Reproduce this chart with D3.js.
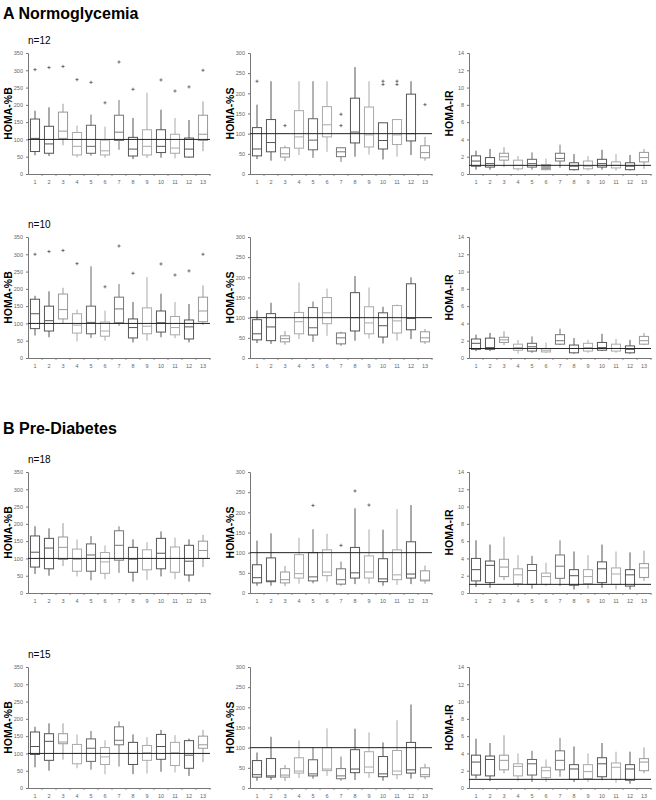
<!DOCTYPE html>
<html>
<head>
<meta charset="utf-8">
<script src="https://cdn.jsdelivr.net/npm/d3@7"></script>
<style>
body { margin: 0; background: #fff; }
text { font-family: "Liberation Sans", Arial, sans-serif; }
#svg1 { opacity: 0.999; }
</style>
</head>
<body>
<svg id="svg1" width="656" height="800"></svg>
<script>
// box categories (1..13)
var cats = ['1','2','3','4','5','6','7','8','9','10','11','12','13'];

// each box: [whisker low, q1, median, q3, whisker high]
var normB12 = [[54,65,103,159,183],[52,60,87,138,193],[83,103,124,179,203],[48,55,80,120,140],[53,60,80,141,172],[47,55,67,98,137],[70,97,121,170,214],[43,52,72,106,162],[46,55,80,128,235],[47,62,80,128,186],[45,60,75,115,162],[47,49,72,104,156],[66,97,115,170,210]];
var normB12Out = [[302],[308],[311],[273],[265],[206],[324],[245],[],[272],[240],[252],[300]];

var normS12 = [[37,45,62,115,172],[33,55,78,135,230],[32,42,50,65,70],[47,64,92,157,230],[40,60,84,137,230],[55,92,122,167,230],[30,43,55,65,65],[43,77,104,188,265],[48,67,97,166,230],[36,62,83,127,127],[43,73,97,135,135],[47,82,100,198,230],[33,40,53,70,92]];
var normS12Out = [[230],[],[120],[],[],[],[120,148],[],[],[222,230],[222,230],[],[172]];

var normIR12 = [[0.5,0.9,1.5,2.1,2.7],[0.5,0.8,1.2,1.9,2.9],[0.8,1.6,2.0,2.4,3.1],[0.4,0.6,1.0,1.6,2.1],[0.5,0.8,1.2,1.7,2.5],[0.4,0.5,0.8,1.1,1.8],[0.7,1.5,1.8,2.4,3.4],[0.4,0.5,0.9,1.3,2.3],[0.4,0.6,0.9,1.5,2.1],[0.5,0.8,1.2,1.7,2.8],[0.4,0.7,1.0,1.4,2.3],[0.4,0.5,0.9,1.3,2.2],[0.6,1.4,1.9,2.5,2.9]];

var normB10 = [[65,85,128,170,180],[60,78,108,150,193],[100,113,140,185,203],[48,72,95,128,140],[58,70,103,150,265],[50,63,78,104,137],[93,102,142,176,214],[45,58,88,113,162],[50,70,92,145,234],[60,75,102,136,186],[57,67,88,120,162],[45,55,90,110,156],[95,105,136,176,210]];
var normB10Out = [[300],[308],[311],[273],[],[206],[324],[245],[],[272],[240],[252],[300]];

var normS10 = [[37,45,60,95,118],[35,43,77,110,137],[33,40,48,55,67],[47,60,90,113,187],[40,57,75,125,140],[55,85,112,150,172],[30,35,50,62,65],[43,67,100,162,203],[48,60,87,127,175],[36,52,80,112,127],[43,62,92,130,133],[47,70,98,184,200],[35,40,50,65,72]];

var normIR10 = [[0.8,1.0,1.7,2.2,2.7],[0.8,1.0,1.2,2.3,2.9],[1.5,1.8,2.1,2.4,3.1],[0.5,0.9,1.2,1.6,2.1],[0.6,0.8,1.3,1.7,2.5],[0.6,0.7,0.9,1.1,1.8],[1.5,1.6,2.0,2.7,3.4],[0.5,0.6,1.1,1.5,2.3],[0.6,0.8,1.2,1.7,2.1],[0.8,0.9,1.2,1.8,2.8],[0.6,0.8,1.1,1.6,2.2],[0.5,0.6,1.0,1.4,2.1],[1.5,1.6,2.0,2.5,2.9]];

var preB18 = [[55,75,118,165,193],[50,70,130,158,187],[78,97,132,162,202],[48,63,97,127,155],[37,63,110,142,165],[40,57,90,117,138],[58,95,138,180,193],[33,60,98,132,155],[38,67,100,125,147],[48,70,115,158,178],[40,60,100,133,160],[33,52,92,138,155],[75,100,123,150,168]];

var preS18 = [[18,25,38,70,130],[18,28,30,87,148],[17,25,33,52,67],[23,37,48,95,137],[24,30,40,100,158],[28,43,52,107,147],[18,22,33,60,78],[22,37,50,113,210],[23,37,52,92,158],[18,28,35,85,157],[20,33,45,107,208],[22,37,47,127,218],[23,30,32,55,68]];
var preS18Out = [[],[],[],[],[217],[],[118],[253],[218],[],[],[],[]];

var preIR18 = [[0.7,1.4,2.7,4.0,6.1],[0.6,1.2,3.2,3.7,5.6],[1.5,1.9,3.0,3.9,6.5],[0.7,1.1,2.1,2.8,4.4],[0.5,1.0,2.6,3.3,4.3],[0.8,1.0,1.9,2.3,3.5],[0.8,1.7,3.1,4.4,6.1],[0.4,0.9,2.0,2.7,4.8],[0.5,1.1,1.9,2.7,4.4],[0.6,1.2,2.8,3.6,5.6],[0.4,1.0,2.2,2.9,4.8],[0.4,0.8,2.1,2.7,4.7],[1.4,1.8,2.9,3.4,4.9]];

var preB15 = [[60,97,120,162,177],[50,80,135,157,187],[82,128,133,157,187],[57,70,100,126,155],[53,77,115,142,165],[40,68,90,117,138],[62,125,138,177,193],[40,68,100,132,155],[42,80,102,123,147],[47,83,120,155,168],[45,65,102,132,153],[35,57,95,137,143],[75,115,125,150,168]];

var preS15 = [[18,27,33,68,88],[20,27,30,73,127],[17,27,32,48,57],[25,37,42,75,118],[23,30,35,70,100],[30,43,47,100,148],[18,23,30,48,78],[20,38,47,95,147],[25,38,52,90,138],[18,28,35,78,113],[22,33,42,93,168],[23,37,45,113,207],[22,28,33,50,60]];

var preIR15 = [[1.1,1.5,3.0,3.8,5.7],[0.8,1.4,3.3,3.7,5.2],[1.7,2.1,3.2,3.8,6.1],[0.8,1.4,2.5,2.8,4.0],[0.7,1.5,2.8,3.3,4.3],[0.7,1.2,2.0,2.4,3.3],[1.3,2.1,3.2,4.3,5.8],[0.7,1.0,2.2,2.7,4.8],[0.7,1.1,1.9,2.7,4.0],[0.9,1.3,2.8,3.5,5.2],[0.6,1.0,2.4,2.9,4.2],[0.5,0.9,2.2,2.7,4.2],[1.7,2.0,3.0,3.4,4.7]];

// tick labels
var ticksB = [0,50,100,150,200,250,300,350];
var ticksS = [0,50,100,150,200,250,300];
var ticksIR = [0,2,4,6,8,10,12,14];

// outline shade of each box (the scan shows mixed grays)
var shades = ['#555','#555','#999','#aaa','#666','#aaa','#777','#555','#aaa','#555','#aaa','#555','#999'];

var svg = d3.select('#svg1');

// layout of the 4 x 3 grid
var colLeft = [28, 250, 469];
var plotW = 182;
var rowTop = [53, 237, 472, 667];
var plotH = 121;

var panels = [
    {row:0, col:0, data:normB12, out:normB12Out, max:350, ticks:ticksB, ref:100, title:'HOMA-%B', n:'n=12'},
    {row:0, col:1, data:normS12, out:normS12Out, max:300, ticks:ticksS, ref:100, title:'HOMA-%S'},
    {row:0, col:2, data:normIR12, out:null, max:14, ticks:ticksIR, ref:1, title:'HOMA-IR', fill6:true},
    {row:1, col:0, data:normB10, out:normB10Out, max:350, ticks:ticksB, ref:100, title:'HOMA-%B', n:'n=10'},
    {row:1, col:1, data:normS10, out:null, max:300, ticks:ticksS, ref:100, title:'HOMA-%S'},
    {row:1, col:2, data:normIR10, out:null, max:14, ticks:ticksIR, ref:1.1, title:'HOMA-IR'},
    {row:2, col:0, data:preB18, out:null, max:350, ticks:ticksB, ref:100, title:'HOMA-%B', n:'n=18'},
    {row:2, col:1, data:preS18, out:preS18Out, max:300, ticks:ticksS, ref:100, title:'HOMA-%S'},
    {row:2, col:2, data:preIR18, out:null, max:14, ticks:ticksIR, ref:1, title:'HOMA-IR'},
    {row:3, col:0, data:preB15, out:null, max:350, ticks:ticksB, ref:100, title:'HOMA-%B', n:'n=15'},
    {row:3, col:1, data:preS15, out:null, max:300, ticks:ticksS, ref:100, title:'HOMA-%S'},
    {row:3, col:2, data:preIR15, out:null, max:14, ticks:ticksIR, ref:1, title:'HOMA-IR'}
];

// section headings
svg.append('text').attr('x', 3).attr('y', 19)
    .attr('font-size', 16).attr('font-weight', 'bold')
    .text('A  Normoglycemia');
svg.append('text').attr('x', 3).attr('y', 434)
    .attr('font-size', 16).attr('font-weight', 'bold')
    .text('B  Pre-Diabetes');

panels.forEach(function(p){
    var left = colLeft[p.col];
    var top = rowTop[p.row];
    var bottom = top + plotH;

    var x = d3.scaleBand().domain(cats).range([left, left + plotW]);
    var y = d3.scaleLinear().domain([0, p.max]).range([bottom, top]);

    var g = svg.append('g');

    // y axis
    var ya = g.append('g')
        .attr('transform', 'translate(' + left + ',0)')
        .call(d3.axisLeft(y).tickValues(p.ticks).tickSize(2).tickPadding(3));
    ya.select('.domain').attr('stroke', '#777');
    ya.selectAll('.tick line').attr('stroke', '#777');
    ya.selectAll('.tick text').attr('font-size', 5.5).attr('fill', '#666')
        .attr('font-family', '"Liberation Sans", Arial, sans-serif');

    // x axis
    var xa = g.append('g')
        .attr('transform', 'translate(0,' + bottom + ')')
        .call(d3.axisBottom(x).tickSize(0).tickPadding(6).tickSizeOuter(0));
    xa.select('.domain').attr('stroke', '#777');
    xa.selectAll('.tick text').attr('font-size', 5.5).attr('fill', '#666')
        .attr('font-family', '"Liberation Sans", Arial, sans-serif');
    // small separator ticks between categories
    g.selectAll('.sep')
        .data(cats)
        .enter()
        .append('line')
        .attr('x1', function(c){ return x(c) + x.bandwidth(); })
        .attr('x2', function(c){ return x(c) + x.bandwidth(); })
        .attr('y1', bottom)
        .attr('y2', bottom + 2)
        .attr('stroke', '#777')
        .attr('stroke-width', 0.8);

    var bw = x.bandwidth() * 0.65;

    var box = g.selectAll('.box')
        .data(p.data)
        .enter()
        .append('g');

    // whisker
    box.append('line')
        .attr('x1', function(d, i){ return x(cats[i]) + x.bandwidth()/2; })
        .attr('x2', function(d, i){ return x(cats[i]) + x.bandwidth()/2; })
        .attr('y1', function(d){ return y(d[0]); })
        .attr('y2', function(d){ return y(d[4]); })
        .attr('stroke', function(d, i){ return shades[i]; })
        .attr('stroke-width', 1);

    // box
    box.append('rect')
        .attr('x', function(d, i){ return x(cats[i]) + (x.bandwidth() - bw)/2; })
        .attr('y', function(d){ return y(d[3]); })
        .attr('width', bw)
        .attr('height', function(d){ return y(d[1]) - y(d[3]); })
        .attr('fill', function(d, i){ return (p.fill6 && i === 5) ? '#999' : '#fff'; })
        .attr('stroke', function(d, i){ return shades[i]; })
        .attr('stroke-width', 1);

    // median
    box.append('line')
        .attr('x1', function(d, i){ return x(cats[i]) + (x.bandwidth() - bw)/2; })
        .attr('x2', function(d, i){ return x(cats[i]) + (x.bandwidth() + bw)/2; })
        .attr('y1', function(d){ return y(d[2]); })
        .attr('y2', function(d){ return y(d[2]); })
        .attr('stroke', function(d, i){ return shades[i]; })
        .attr('stroke-width', 1);

    // outliers
    if (p.out) {
        p.out.forEach(function(vals, i){
            g.selectAll('.o' + i)
                .data(vals)
                .enter()
                .append('path')
                .attr('d', d3.symbol(d3.symbolPlus).size(4))
                .attr('transform', function(v){
                    return 'translate(' + (x(cats[i]) + x.bandwidth()/2) + ',' + y(v) + ')';
                })
                .attr('fill', 'none')
                .attr('stroke', '#444')
                .attr('stroke-width', 0.7);
        });
    }

    // reference line
    g.append('line')
        .attr('x1', left)
        .attr('x2', left + plotW)
        .attr('y1', y(p.ref))
        .attr('y2', y(p.ref))
        .attr('stroke', '#222')
        .attr('stroke-width', 1);

    // axis title
    g.append('text')
        .attr('transform', 'translate(' + (left - 16) + ',' + ((top + bottom)/2) + ') rotate(-90)')
        .attr('text-anchor', 'middle')
        .attr('font-size', 10.5)
        .attr('font-weight', 'bold')
        .text(p.title);

    if (p.n) {
        g.append('text')
            .attr('x', left)
            .attr('y', top - 9)
            .attr('font-size', 10)
            .text(p.n);
    }
});
</script>
</body>
</html>
